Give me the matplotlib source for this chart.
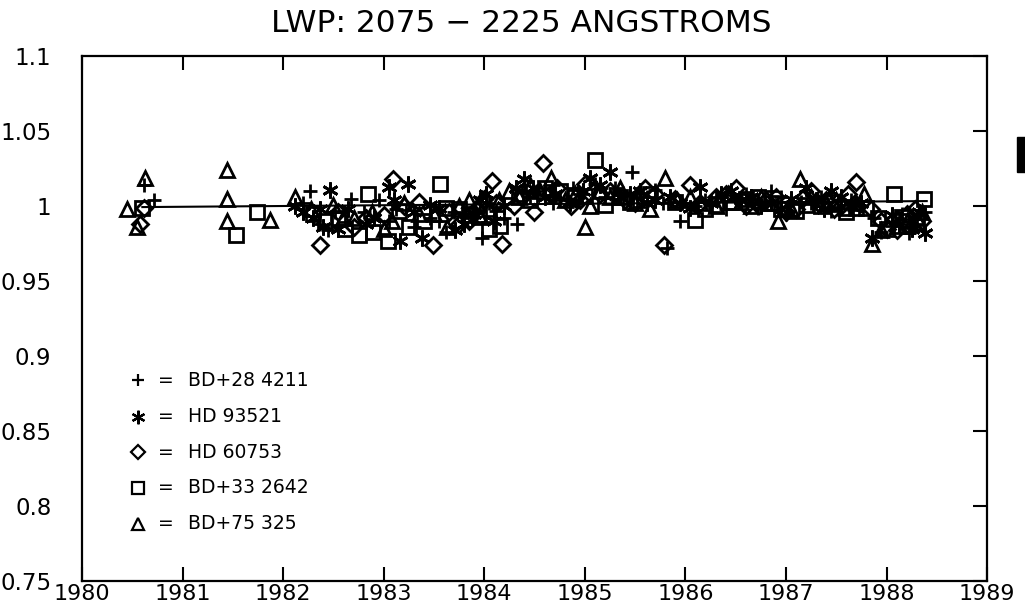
import matplotlib
matplotlib.use("Agg")
import matplotlib.pyplot as plt
from matplotlib.patches import Rectangle

plt.rcParams['font.family'] = ['DejaVu Sans']

title = "LWP: 2075 \u2212 2225 ANGSTROMS"
xticks = [1980, 1981, 1982, 1983, 1984, 1985, 1986, 1987, 1988, 1989]
yticks = [0.75, 0.8, 0.85, 0.9, 0.95, 1.0, 1.05, 1.1]
ytick_labels = ["0.75", "0.8", "0.85", "0.9", "0.95", "1", "1.05", "1.1"]

names = ["BD+28 4211", "HD 93521", "HD 60753", "BD+33 2642", "BD+75 325"]

plus_x = [1980.62, 1980.72, 1982.27, 1982.36, 1982.45, 1982.67, 1982.80, 1983.05, 1983.30, 1983.46,
          1983.62, 1983.80, 1983.98, 1984.05, 1984.20, 1984.33, 1984.45, 1984.60, 1984.75, 1984.95,
          1985.10, 1985.30, 1985.47, 1985.62, 1985.78, 1985.82, 1985.95, 1986.20, 1986.40, 1986.60,
          1986.85, 1987.00, 1987.15, 1987.35, 1987.55, 1987.75, 1987.95, 1988.15, 1988.30,
          1982.20, 1982.52, 1982.95, 1983.12, 1983.55, 1983.70, 1983.88, 1984.12, 1984.52, 1984.68,
          1984.88, 1985.20, 1985.38, 1985.70, 1986.10, 1986.30, 1986.50, 1986.72, 1986.95, 1987.25,
          1987.45, 1987.65, 1987.88, 1988.05, 1988.22, 1988.38]
plus_y = [1.014, 1.004, 1.010, 0.988, 0.984, 1.005, 0.996, 0.990, 0.986, 0.992,
          0.983, 0.995, 0.979, 1.002, 0.992, 0.988, 1.006, 1.012, 1.004, 1.008,
          1.015, 1.012, 1.023, 1.006, 1.002, 0.972, 0.990, 1.004, 0.998, 1.008,
          1.010, 0.995, 1.003, 1.006, 0.999, 1.000, 0.983, 0.995, 0.988,
          1.002, 0.996, 1.004, 0.998, 0.990, 0.996, 0.992, 0.997, 1.010, 1.002,
          1.012, 1.006, 1.009, 1.011, 1.000, 1.006, 1.004, 0.999, 1.006, 1.002,
          0.997, 1.004, 0.992, 0.987, 0.982, 0.996]

star_x = [1982.12, 1982.30, 1982.37, 1982.47, 1982.55, 1982.90, 1983.05, 1983.16, 1983.24, 1983.38,
          1983.46, 1983.71, 1983.90, 1984.02, 1984.10, 1984.40, 1984.48, 1984.70, 1984.98, 1985.05,
          1985.25, 1985.35, 1985.55, 1985.70, 1985.95, 1986.15, 1986.35, 1986.55, 1986.75, 1986.95,
          1987.20, 1987.30, 1987.45, 1987.65, 1987.86, 1988.05, 1988.25, 1988.38,
          1982.20, 1982.40, 1982.65, 1982.82, 1983.10, 1983.30, 1983.55, 1983.80, 1983.96, 1984.20,
          1984.32, 1984.60, 1984.85, 1985.15, 1985.45, 1985.62, 1985.85, 1986.05, 1986.25, 1986.45,
          1986.65, 1986.85, 1987.05, 1987.38, 1987.55, 1987.75, 1988.12, 1988.32]
star_y = [1.000, 0.992, 0.998, 1.011, 0.985, 0.992, 1.013, 0.977, 1.015, 0.979,
          1.001, 0.984, 0.995, 1.008, 0.990, 1.018, 1.012, 1.008, 1.010, 1.019,
          1.023, 1.006, 1.010, 1.004, 1.002, 1.013, 1.008, 1.004, 1.000, 0.998,
          1.012, 1.004, 1.010, 1.000, 0.979, 0.994, 0.985, 0.982,
          0.996, 0.986, 0.998, 0.988, 1.004, 0.996, 0.999, 0.988, 1.004, 1.000,
          1.012, 1.006, 1.002, 1.014, 1.008, 1.002, 1.006, 0.999, 1.002, 1.010,
          1.006, 1.002, 1.005, 0.998, 1.006, 1.002, 0.988, 0.996]

diam_x = [1980.58, 1980.62, 1982.37, 1982.82, 1983.09, 1983.35, 1983.49, 1983.65, 1983.85, 1984.00,
          1984.08, 1984.18, 1984.30, 1984.49, 1984.58, 1984.72, 1984.86, 1985.00, 1985.15, 1985.40,
          1985.60, 1985.79, 1985.90, 1986.05, 1986.30, 1986.50, 1986.70, 1986.90, 1987.10, 1987.25,
          1987.40, 1987.55, 1987.70, 1987.85, 1988.00, 1988.20, 1988.35,
          1982.55, 1982.70, 1983.00, 1983.20, 1983.75, 1983.92, 1984.12, 1984.38, 1984.65, 1984.95,
          1985.25, 1985.50, 1985.70, 1986.15, 1986.40, 1986.60, 1986.80, 1987.00, 1987.18, 1987.32,
          1987.48, 1987.62, 1987.95, 1988.10, 1988.28]
diam_y = [0.988, 0.999, 0.974, 0.992, 1.018, 1.003, 0.974, 0.996, 0.990, 1.005,
          1.017, 0.975, 1.000, 0.996, 1.029, 1.012, 1.000, 1.015, 1.008, 1.004,
          1.012, 0.974, 1.005, 1.014, 1.006, 1.012, 1.002, 1.006, 0.998, 1.010,
          1.004, 1.000, 1.016, 0.998, 0.985, 0.995, 0.990,
          0.996, 0.986, 0.994, 1.000, 0.988, 0.998, 1.002, 1.006, 1.008, 1.004,
          1.010, 1.002, 1.008, 1.002, 1.008, 1.000, 1.004, 0.996, 1.006, 1.002,
          0.998, 1.008, 0.990, 0.984, 0.998]

sq_x = [1980.60, 1981.53, 1981.74, 1982.42, 1982.62, 1982.75, 1982.84, 1982.89, 1983.04, 1983.15,
        1983.40, 1983.56, 1983.75, 1983.95, 1984.16, 1984.35, 1984.60, 1984.90, 1985.10, 1985.20,
        1985.45, 1985.65, 1986.10, 1986.30, 1986.60, 1986.85, 1987.10, 1987.35, 1987.60, 1987.80,
        1988.00, 1988.07, 1988.20, 1988.37,
        1982.30, 1982.55, 1983.25, 1983.62, 1983.85, 1984.05, 1984.45, 1984.75, 1985.00, 1985.35,
        1985.55, 1985.90, 1986.20, 1986.45, 1986.72, 1986.95, 1987.20, 1987.45, 1987.70, 1987.92,
        1988.15, 1988.30]
sq_y = [0.999, 0.981, 0.996, 0.990, 0.985, 0.981, 1.008, 0.983, 0.977, 0.997,
        0.990, 1.015, 0.998, 0.993, 0.987, 1.008, 1.012, 1.006, 1.031, 1.001,
        1.003, 1.008, 0.991, 1.001, 1.005, 1.002, 0.997, 1.000, 0.996, 0.999,
        0.985, 1.008, 0.987, 1.005,
        0.995, 0.992, 0.986, 0.999, 0.994, 0.985, 1.004, 1.010, 1.007, 1.006,
        1.004, 1.003, 0.998, 1.003, 1.006, 0.998, 1.001, 1.003, 0.999, 0.992,
        0.993, 0.989]

tri_x = [1980.45, 1980.63, 1980.55, 1981.44, 1981.44, 1981.44, 1981.87, 1982.12, 1982.50, 1982.70,
         1983.00, 1983.20, 1983.50, 1983.63, 1983.85, 1984.05, 1984.25, 1984.45, 1984.66, 1984.80,
         1985.00, 1985.15, 1985.35, 1985.65, 1985.80, 1986.05, 1986.30, 1986.55, 1986.75, 1986.92,
         1987.14, 1987.40, 1987.60, 1987.78, 1987.86, 1988.10, 1988.30,
         1982.28, 1982.60, 1982.88, 1983.08, 1983.35, 1983.75, 1983.95, 1984.15, 1984.35, 1984.55,
         1984.90, 1985.05, 1985.25, 1985.50, 1985.92, 1986.15, 1986.42, 1986.65, 1986.85, 1987.05,
         1987.25, 1987.50, 1987.70, 1987.95, 1988.20, 1988.35]
tri_y = [0.998, 1.019, 0.986, 1.024, 1.005, 0.990, 0.991, 1.006, 1.001, 0.992,
         0.985, 1.002, 0.995, 0.986, 1.004, 0.998, 1.010, 1.014, 1.019, 1.004,
         0.986, 1.010, 1.012, 0.998, 1.019, 1.006, 1.000, 1.003, 1.006, 0.990,
         1.018, 1.002, 0.999, 1.008, 0.975, 0.987, 0.992,
         0.998, 0.992, 0.996, 0.990, 0.995, 1.000, 0.994, 1.004, 1.006, 1.010,
         1.008, 1.000, 1.006, 1.002, 1.004, 1.002, 1.008, 1.000, 1.002, 0.998,
         1.006, 1.004, 1.002, 0.984, 0.990, 0.996]

fit_x = [1980.6, 1988.4]
fit_y = [0.9995, 1.0035]

fig = plt.figure(figsize=(10.25, 6.12), dpi=100)
ax = fig.add_axes([0.080, 0.050, 0.883, 0.858])

marker_specs = [
    dict(marker='+', ms=10.5, mew=2.0),
    dict(marker=(6, 2, 0), ms=11.5, mew=2.0),
    dict(marker='D', ms=8, mew=2.0),
    dict(marker='s', ms=9.5, mew=2.0),
    dict(marker='^', ms=10.5, mew=2.0),
]
series = [(plus_x, plus_y), (star_x, star_y), (diam_x, diam_y), (sq_x, sq_y), (tri_x, tri_y)]

ax.plot(fit_x, fit_y, color='black', lw=1.5, zorder=2)
for (sx, sy), spec in zip(series, marker_specs):
    ax.plot(sx, sy, linestyle='none', color='black', mfc='none', mec='black', zorder=3, **spec)

ax.set_xlim(1980, 1989)
ax.set_ylim(0.75, 1.1)
ax.set_xticks(xticks)
ax.set_xticklabels([str(v) for v in xticks])
ax.set_yticks(yticks)
ax.set_yticklabels(ytick_labels)
ax.tick_params(axis='both', direction='in', length=10, width=1.5, top=True, right=True,
               labelsize=16.5)
ax.tick_params(axis='y', pad=22, left=False)
ax.tick_params(axis='x', pad=2, labelsize=16)
for s in ax.spines.values():
    s.set_linewidth(1.6)

fig.text(0.509, 0.962, title, fontsize=22.5, ha='center', va='center')

# hand-drawn legend
leg_y = [0.383, 0.314, 0.246, 0.178, 0.110]
leg_specs = [dict(spec, ms=spec['ms'] * 0.85, mew=1.6) for spec in marker_specs]
for yy, spec, name in zip(leg_y, leg_specs, names):
    ax.plot([0.062], [yy], transform=ax.transAxes, linestyle='none', color='black',
            mfc='none', mec='black', clip_on=False, **spec)
    ax.text(0.093, yy, "=", transform=ax.transAxes, fontsize=13.5, ha='center', va='center')
    ax.text(0.117, yy, name, transform=ax.transAxes, fontsize=13.5, ha='left', va='center')

fig.patches.append(Rectangle((0.992, 1 - 172 / 612), 0.008, 35 / 612,
                             transform=fig.transFigure, color='black'))

fig.savefig("out.png", dpi=100)
